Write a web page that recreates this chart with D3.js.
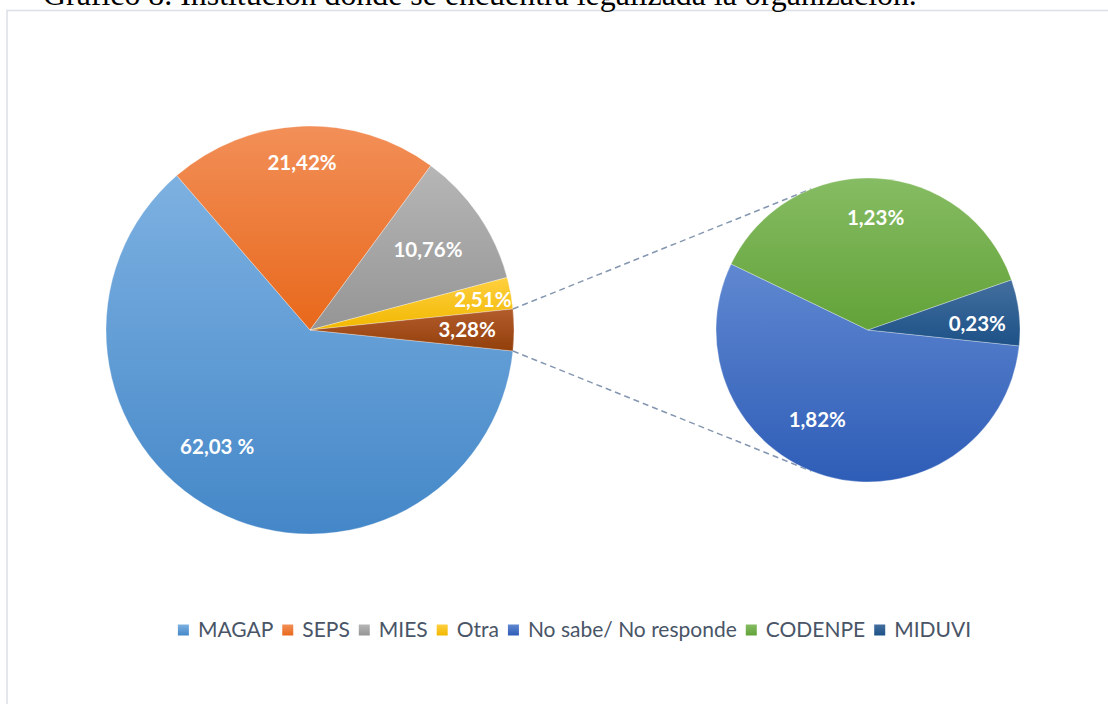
<!DOCTYPE html>
<html>
<head>
<meta charset="utf-8">
<script src="https://cdn.jsdelivr.net/npm/d3@7"></script>
<style>
  body { margin: 0; background: #fff; }
  svg { display: block; }
</style>
</head>
<body>
<div id="chart"></div>
<script>
// data
var mainNames = ["MAGAP", "SEPS", "MIES", "Otra"];
var mainValues = [62.03, 21.42, 10.76, 2.51];
var mainText = ["62,03 %", "21,42%", "10,76%", "2,51%"];
var subNames = ["No sabe/ No responde", "CODENPE", "MIDUVI"];
var subValues = [1.82, 1.23, 0.23];
var subText = ["1,82%", "1,23%", "0,23%"];
var otherText = "3,28%";
var title = "Gráfico 8. Institución donde se encuentra legalizada la organización.";

var width = 1108, height = 704;

// colours: [top, bottom] of the gradient
var colors = {
  "MAGAP": ["#7db1e1", "#4487c8"],
  "SEPS": ["#f28f58", "#e8681b"],
  "MIES": ["#b6b6b6", "#959595"],
  "Otra": ["#ffd040", "#f1b700"],
  "Other": ["#b35c2c", "#923f0a"],
  "No sabe/ No responde": ["#6088d1", "#2e5db7"],
  "CODENPE": ["#86bc63", "#62a238"],
  "MIDUVI": ["#436f9f", "#1d5187"]
};

var svg = d3.select("#chart").append("svg")
  .attr("width", width)
  .attr("height", height);

var defs = svg.append("defs");
Object.keys(colors).forEach(function(k, i) {
  var g = defs.append("linearGradient")
    .attr("id", "grad" + i)
    .attr("x1", 0).attr("y1", 0).attr("x2", 0).attr("y2", 1);
  g.append("stop").attr("offset", "0%").attr("stop-color", colors[k][0]);
  g.append("stop").attr("offset", "100%").attr("stop-color", colors[k][1]);
});
function fillOf(name) {
  return "url(#grad" + Object.keys(colors).indexOf(name) + ")";
}

// chart frame
svg.append("rect")
  .attr("x", 7).attr("y", 10.5)
  .attr("width", width + 20).attr("height", height + 20)
  .attr("fill", "none")
  .attr("stroke", "#dcdfe6")
  .attr("stroke-width", 1.5);

// title (clipped at the top, as in the source)
var titleText = svg.append("text")
  .attr("x", 43).attr("y", 5)
  .style("font-family", "'Liberation Serif', 'Times New Roman', serif")
  .style("font-size", "100px")
  .attr("fill", "#000")
  .text(title);
var tw = titleText.node().getComputedTextLength();
titleText.style("font-size", (100 * 874 / tw) + "px");

// main pie
var mainCx = 310, mainCy = 330, mainR = 204;
var subCx = 868, subCy = 330, subR = 152;

var otherValue = d3.sum(subValues);
var mainData = mainNames.map(function(n, i) {
  return {name: n, value: mainValues[i], text: mainText[i]};
});
mainData.push({name: "Other", value: otherValue, text: otherText});
var total = d3.sum(mainData, function(d) { return d.value; });
var otherAngle = 2 * Math.PI * otherValue / total;
var mainStart = Math.PI / 2 + otherAngle / 2;

var pie = d3.pie()
  .value(function(d) { return d.value; })
  .sort(null);

var mainArcs = pie.startAngle(mainStart).endAngle(mainStart + 2 * Math.PI)(mainData);
var arcMain = d3.arc().innerRadius(0).outerRadius(mainR);

// label placement tweaks: [angle shift in deg, radius fraction]
var mainLabelPos = [[11, 0.73], [-0.5, 0.82], [0, 0.70], [0.5, 0.86], [0, 0.77]];
var subLabelPos = [[13.5, 0.68], [0.6, 0.74], [3.5, 0.72]];

var gMain = svg.append("g")
  .attr("transform", "translate(" + mainCx + "," + mainCy + ")");

gMain.selectAll("path")
  .data(mainArcs)
  .enter()
  .append("path")
  .attr("d", arcMain)
  .attr("fill", function(d) { return fillOf(d.data.name); })
  .attr("stroke", "#ffffff")
  .attr("stroke-opacity", 0.5)
  .attr("stroke-width", 0.6);

function labelXY(d, pos, r) {
  var a = (d.startAngle + d.endAngle) / 2 + pos[0] * Math.PI / 180;
  return [Math.sin(a) * r * pos[1], -Math.cos(a) * r * pos[1]];
}

gMain.selectAll("text")
  .data(mainArcs)
  .enter()
  .append("text")
  .attr("transform", function(d, i) {
    return "translate(" + labelXY(d, mainLabelPos[i], mainR) + ")";
  })
  .attr("text-anchor", "middle")
  .attr("dy", "0.36em")
  .style("font-family", "Lato, 'Open Sans', sans-serif")
  .style("font-weight", "bold")
  .style("font-size", "20.5px")
  .attr("fill", "#fff")
  .text(function(d) { return d.data.text; });

// secondary pie
var subData = subNames.map(function(n, i) {
  return {name: n, value: subValues[i], text: subText[i]};
});
var subStart = 96 * Math.PI / 180;
var subArcs = d3.pie()
  .value(function(d) { return d.value; })
  .sort(null)
  .startAngle(subStart).endAngle(subStart + 2 * Math.PI)(subData);
var arcSub = d3.arc().innerRadius(0).outerRadius(subR);

// connector lines, tangent to the secondary pie
function tangent(px, py, upper) {
  var dx = px - subCx, dy = py - subCy;
  var d = Math.sqrt(dx * dx + dy * dy);
  var phi = Math.atan2(dy, dx);
  var th = Math.acos(subR / d);
  var a = upper ? phi + th : phi - th;
  return [subCx + subR * Math.cos(a), subCy + subR * Math.sin(a)];
}
var edges = [mainStart - otherAngle, mainStart];
edges.forEach(function(a, i) {
  var px = mainCx + Math.sin(a) * mainR;
  var py = mainCy - Math.cos(a) * mainR;
  var t = tangent(px, py, i === 0);
  svg.append("line")
    .attr("x1", px).attr("y1", py)
    .attr("x2", t[0]).attr("y2", t[1])
    .attr("stroke", "#8496b0")
    .attr("stroke-width", 1.5)
    .attr("stroke-dasharray", "6,4");
});

var gSub = svg.append("g")
  .attr("transform", "translate(" + subCx + "," + subCy + ")");

gSub.selectAll("path")
  .data(subArcs)
  .enter()
  .append("path")
  .attr("d", arcSub)
  .attr("fill", function(d) { return fillOf(d.data.name); })
  .attr("stroke", "#ffffff")
  .attr("stroke-opacity", 0.5)
  .attr("stroke-width", 0.6);

gSub.selectAll("text")
  .data(subArcs)
  .enter()
  .append("text")
  .attr("transform", function(d, i) {
    return "translate(" + labelXY(d, subLabelPos[i], subR) + ")";
  })
  .attr("text-anchor", "middle")
  .attr("dy", "0.36em")
  .style("font-family", "Lato, 'Open Sans', sans-serif")
  .style("font-weight", "bold")
  .style("font-size", "20.5px")
  .attr("fill", "#fff")
  .text(function(d) { return d.data.text; });

// legend
var legendNames = mainNames.concat(subNames);
var legendY = 630, box = 11, boxGap = 9, itemGap = 9;
var legend = svg.append("g");
var items = legend.selectAll("g")
  .data(legendNames)
  .enter()
  .append("g");
items.append("rect")
  .attr("width", box).attr("height", box)
  .attr("y", legendY - box / 2)
  .attr("fill", function(d) { return fillOf(d); });
items.append("text")
  .attr("x", box + boxGap)
  .attr("y", legendY)
  .attr("dy", "0.35em")
  .style("font-family", "Lato, 'Open Sans', sans-serif")
  .style("font-size", "21px")
  .attr("fill", "#495567")
  .text(function(d) { return d; });

var widths = [];
items.each(function() {
  widths.push(box + boxGap + d3.select(this).select("text").node().getComputedTextLength());
});
var totalW = d3.sum(widths) + itemGap * (widths.length - 1);
var x0 = 574.5 - totalW / 2;
items.attr("transform", function(d, i) {
  var x = x0 + d3.sum(widths.slice(0, i)) + itemGap * i;
  return "translate(" + x + ",0)";
});
</script>
</body>
</html>
